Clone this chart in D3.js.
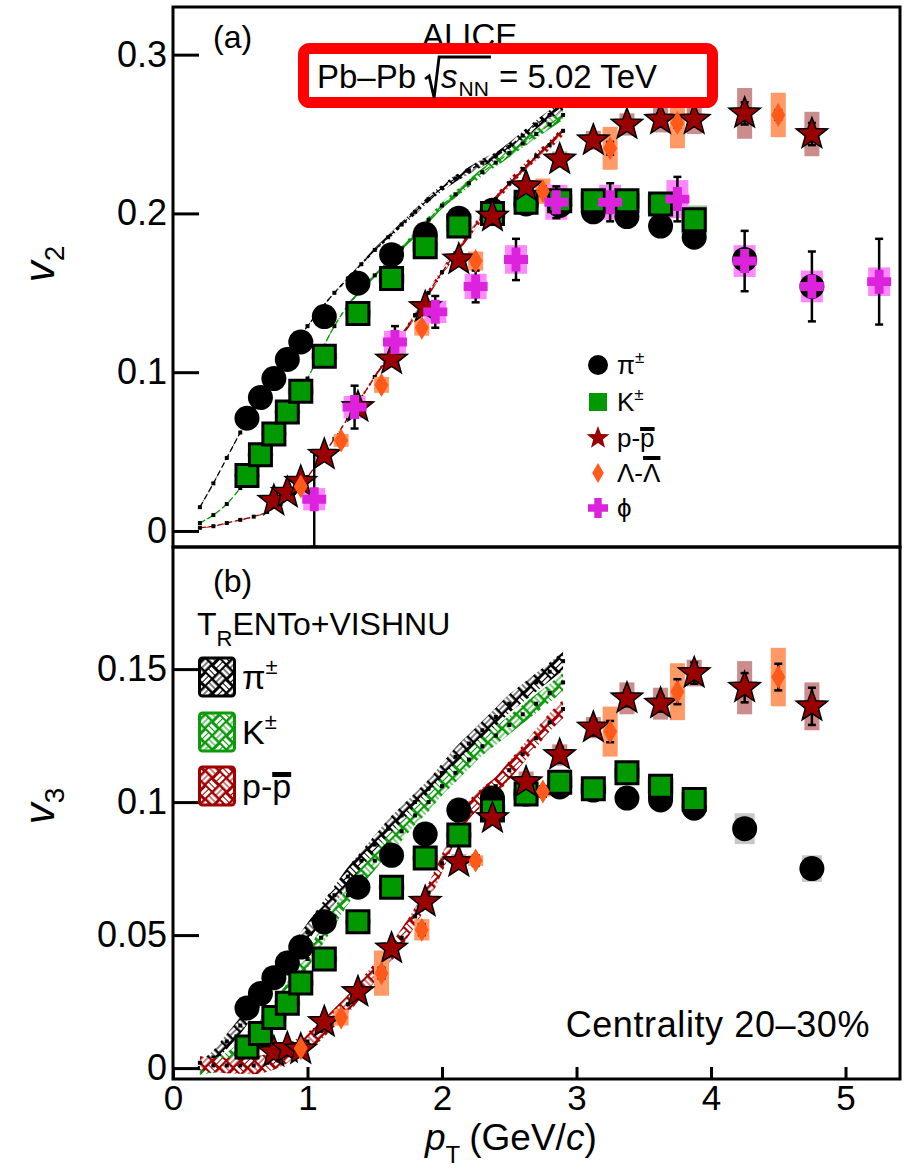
<!DOCTYPE html>
<html>
<head>
<meta charset="utf-8">
<script src="https://cdn.jsdelivr.net/npm/d3@7"></script>
<style>
body { margin: 0; background: #fff; }
text { font-family: "Liberation Sans", Arial, Helvetica, sans-serif; fill: #000; }
</style>
</head>
<body>
<svg id="chart" width="913" height="1173"></svg>
<script>
// ---- model (TRENTo+VISHNU) ----
const modelPt = [0.2,0.3,0.4,0.5,0.6,0.7,0.8,0.9,1.0,1.1,1.2,1.3,1.4,1.5,1.6,1.7,1.8,1.9,2.0,2.1,2.2,2.3,2.4,2.5,2.6,2.7,2.8,2.9];
const piV2Model = [0.015,0.030,0.046,0.062,0.077,0.091,0.104,0.117,0.129,0.140,0.150,0.159,0.168,0.177,0.185,0.193,0.201,0.209,0.216,0.222,0.227,0.232,0.236,0.242,0.249,0.256,0.262,0.268];
const kV2Model  = [0.005,0.010,0.017,0.027,0.039,0.052,0.066,0.081,0.096,0.113,0.129,0.142,0.152,0.161,0.170,0.178,0.187,0.196,0.205,0.212,0.219,0.226,0.232,0.238,0.244,0.250,0.256,0.262];
const pV2Model  = [0.002,0.003,0.005,0.007,0.009,0.012,0.017,0.024,0.034,0.046,0.058,0.071,0.084,0.097,0.110,0.123,0.136,0.150,0.163,0.175,0.187,0.198,0.209,0.219,0.228,0.236,0.243,0.252];
const v2ModelErr = [0.0003,0.0003,0.0003,0.0003,0.0003,0.0003,0.0003,0.0003,0.0004,0.0005,0.0006,0.0008,0.001,0.0012,0.0014,0.0016,0.0018,0.002,0.0021,0.0022,0.0023,0.0024,0.0025,0.0026,0.0027,0.0028,0.0029,0.003];
const piV3Model = [0.000,0.004,0.010,0.016,0.023,0.030,0.037,0.044,0.051,0.058,0.065,0.072,0.078,0.084,0.090,0.095,0.100,0.105,0.111,0.117,0.122,0.127,0.132,0.137,0.141,0.145,0.149,0.153];
const kV3Model  = [0.000,0.001,0.003,0.007,0.012,0.018,0.025,0.033,0.041,0.049,0.057,0.065,0.072,0.078,0.084,0.089,0.095,0.100,0.106,0.111,0.116,0.121,0.125,0.129,0.133,0.137,0.141,0.145];
const pV3Model  = [0.002,0.001,0.001,0.001,0.001,0.002,0.004,0.007,0.010,0.014,0.019,0.024,0.030,0.036,0.042,0.049,0.057,0.066,0.077,0.089,0.097,0.102,0.106,0.112,0.118,0.124,0.130,0.135];
const v3ModelErr = [0.0025,0.0027,0.0029,0.0031,0.0033,0.0034,0.0035,0.0035,0.0035,0.0035,0.0035,0.0035,0.0035,0.0035,0.0035,0.0035,0.0035,0.0035,0.0035,0.0035,0.0035,0.0035,0.0035,0.0035,0.0035,0.0035,0.0035,0.0035];

// ---- ALICE data ----
const piPt = [0.55,0.65,0.75,0.85,0.95,1.125,1.375,1.625,1.875,2.125,2.375,2.625,2.875,3.125,3.375,3.625,3.875,4.25,4.75];
const piV2 = [0.071,0.084,0.096,0.108,0.119,0.135,0.156,0.174,0.187,0.197,0.202,0.206,0.205,0.201,0.198,0.192,0.185,0.171,0.154];
const piV2Stat = [0.001,0.001,0.001,0.001,0.001,0.001,0.001,0.001,0.001,0.001,0.001,0.001,0.002,0.002,0.002,0.002,0.003,0.004,0.005];
const piV2Sys = [0.002,0.002,0.002,0.002,0.002,0.002,0.002,0.002,0.002,0.002,0.002,0.002,0.002,0.003,0.003,0.003,0.003,0.005,0.005];
const piV3 = [0.0226,0.028,0.034,0.0395,0.0455,0.055,0.068,0.080,0.088,0.097,0.1015,0.103,0.1057,0.1045,0.1015,0.1008,0.0977,0.090,0.075];
const piV3Stat = [0.0005,0.0005,0.0005,0.0005,0.0005,0.0005,0.0005,0.0005,0.0005,0.0005,0.0005,0.001,0.001,0.001,0.001,0.001,0.001,0.002,0.002];
const piV3Sys = [0.001,0.001,0.001,0.001,0.001,0.001,0.001,0.001,0.001,0.001,0.001,0.001,0.001,0.001,0.001,0.002,0.002,0.0058,0.005];

const kPt = [0.55,0.65,0.75,0.85,0.95,1.125,1.375,1.625,1.875,2.125,2.375,2.625,2.875,3.125,3.375,3.625,3.875];
const kV2 = [0.035,0.048,0.061,0.075,0.088,0.110,0.137,0.159,0.179,0.192,0.200,0.207,0.208,0.208,0.208,0.206,0.196];
const kV2Stat = [0.001,0.001,0.001,0.001,0.001,0.001,0.001,0.001,0.001,0.001,0.001,0.001,0.002,0.002,0.002,0.003,0.003];
const kV2Sys = [0.001,0.001,0.001,0.001,0.002,0.002,0.002,0.003,0.003,0.003,0.003,0.004,0.004,0.005,0.005,0.006,0.009];
const kV3 = [0.0079,0.013,0.019,0.0244,0.032,0.041,0.055,0.068,0.079,0.0876,0.097,0.103,0.1075,0.105,0.111,0.106,0.101];
const kV3Stat = [0.0005,0.0005,0.0005,0.0005,0.0005,0.0005,0.0005,0.0005,0.0005,0.0005,0.001,0.001,0.001,0.001,0.002,0.002,0.002];
const kV3Sys = [0.001,0.001,0.001,0.001,0.001,0.001,0.001,0.001,0.001,0.001,0.002,0.002,0.002,0.002,0.002,0.003,0.003];

const pPt = [0.75,0.85,0.95,1.125,1.375,1.625,1.875,2.125,2.375,2.625,2.875,3.125,3.375,3.625,3.875,4.25,4.75];
const pV2 = [0.019,0.024,0.031,0.048,0.078,0.108,0.141,0.171,0.198,0.217,0.234,0.246,0.256,0.259,0.259,0.263,0.250];
const pV2Stat = [0.001,0.001,0.001,0.001,0.001,0.001,0.001,0.002,0.002,0.002,0.003,0.003,0.003,0.004,0.004,0.007,0.007];
const pV2Sys = [0.002,0.002,0.002,0.002,0.002,0.003,0.003,0.003,0.004,0.004,0.005,0.006,0.007,0.008,0.009,0.016,0.014];
const pV3 = [0.006,0.0075,0.007,0.0173,0.0286,0.045,0.0625,0.0774,0.094,0.1075,0.1177,0.128,0.139,0.137,0.1485,0.143,0.136];
const pV3Stat = [0.001,0.001,0.001,0.001,0.001,0.001,0.001,0.002,0.002,0.002,0.003,0.003,0.003,0.003,0.004,0.0055,0.007];
const pV3Sys = [0.001,0.001,0.001,0.001,0.002,0.002,0.002,0.003,0.003,0.004,0.004,0.004,0.006,0.006,0.005,0.010,0.009];

const lPt = [0.95,1.25,1.55,1.85,2.25,2.75,3.25,3.75,4.5];
const lV2 = [0.028,0.057,0.092,0.128,0.170,0.214,0.241,0.257,0.262];
const lV2Stat = [0.001,0.001,0.002,0.002,0.002,0.003,0.004,0.003,0.003];
const lV2Sys = [0.003,0.004,0.005,0.005,0.006,0.008,0.0135,0.016,0.014];
const lV3 = [0.0075,0.019,0.0357,0.052,0.078,0.104,0.1265,0.1415,0.147];
const lV3Stat = [0.001,0.001,0.002,0.002,0.002,0.002,0.004,0.0047,0.005];
const lV3Sys = [0.002,0.003,0.0085,0.004,0.002,0.002,0.0094,0.0107,0.011];

const phiPt = [1.05,1.35,1.65,1.95,2.25,2.55,2.85,3.25,3.75,4.25,4.75,5.25];
const phiV2 = [0.020,0.078,0.119,0.138,0.154,0.171,0.207,0.207,0.209,0.170,0.154,0.157];
const phiV2Stat = [0.030,0.0135,0.010,0.010,0.010,0.013,0.010,0.012,0.014,0.019,0.022,0.027];
const phiV2Sys = [0.007,0.007,0.007,0.007,0.008,0.009,0.011,0.011,0.012,0.010,0.010,0.009];

const xTicks = [0,1,2,3,4,5];
const v2Ticks = [0,0.1,0.2,0.3];
const v2TickLabels = ['0','0.1','0.2','0.3'];
const v3Ticks = [0,0.05,0.1,0.15];
const v3TickLabels = ['0','0.05','0.1','0.15'];

const svg = d3.select('#chart');
const defs = svg.append('defs');

const x = d3.scaleLinear().domain([0, 5.405]).range([173, 900]);
const yTop = d3.scaleLinear().domain([-0.0101, 0.330]).range([547, 7]);
const yBot = d3.scaleLinear().domain([-0.0041, 0.1959]).range([1079, 547]);

svg.append('rect').attr('width', 913).attr('height', 1173).attr('fill', '#fff');

defs.append('clipPath').attr('id', 'clipTop').append('rect')
  .attr('x', 173).attr('y', 7).attr('width', 727).attr('height', 540);
defs.append('clipPath').attr('id', 'clipBot').append('rect')
  .attr('x', 173).attr('y', 547).attr('width', 727).attr('height', 532);

// woven hatch used by the model bands
function addWeave(id, color) {
  let p = defs.append('pattern').attr('id', id)
    .attr('patternUnits', 'userSpaceOnUse').attr('width', 20).attr('height', 20)
    .attr('patternTransform', 'rotate(45)');
  p.append('rect').attr('width', 20).attr('height', 20).attr('fill', color);
  let bars = [[1,2,8,3],[1,6,8,3],[11.5,1,3,8],[15.5,1,3,8],
              [2,11,3,8],[6,11,3,8],[11,11.5,8,3],[11,15.5,8,3]];
  bars.forEach(function (b) {
    p.append('rect').attr('x', b[0]).attr('y', b[1]).attr('width', b[2]).attr('height', b[3]).attr('fill', '#fff');
  });
}
addWeave('weavePi', '#000');
addWeave('weaveK', '#0a9a0a');
addWeave('weaveP', '#a00000');

// marker shapes
function shapePath(type, s) {
  if (type === 'circle') {
    return `M${s},0A${s},${s} 0 1,1 ${-s},0A${s},${s} 0 1,1 ${s},0Z`;
  }
  if (type === 'square') {
    return `M${-s},${-s}H${s}V${s}H${-s}Z`;
  }
  if (type === 'star') {
    let pts = [];
    for (let i = 0; i < 10; i++) {
      let r = i % 2 === 0 ? s : s * 0.42;
      let a = -Math.PI / 2 + i * Math.PI / 5;
      pts.push([r * Math.cos(a), r * Math.sin(a)]);
    }
    return 'M' + pts.map(function (p) { return p[0].toFixed(2) + ',' + p[1].toFixed(2); }).join('L') + 'Z';
  }
  if (type === 'diamond') {
    let w = s * 0.58;
    return `M0,${-s}L${w},0L0,${s}L${-w},0Z`;
  }
  if (type === 'cross') {
    let t = s * 0.37;
    return `M${-t},${-s}H${t}V${-t}H${s}V${t}H${t}V${s}H${-t}V${t}H${-s}V${-t}H${-t}Z`;
  }
}

const styles = {
  pi:  { shape: 'circle',  size: 12.5, fill: '#000',    stroke: 'none', sw: 0,   sysColor: '#c8c8c8', sysW: 20 },
  k:   { shape: 'square',  size: 11,   fill: '#009900', stroke: '#000', sw: 3,   sysColor: '#99cc99', sysW: 26 },
  p:   { shape: 'star',    size: 16.5, fill: '#990000', stroke: '#000', sw: 1.5, sysColor: '#cc8c8c', sysW: 15 },
  lam: { shape: 'diamond', size: 12,   fill: '#ff5a1a', stroke: 'none', sw: 0,   sysColor: '#ff9966', sysW: 15 },
  phi: { shape: 'cross',   size: 12,   fill: '#dd22dd', stroke: 'none', sw: 0,   sysColor: '#ff88ff', sysW: 22 }
};

function drawModel(g, y, vals, errs, color, pat, thin) {
  let pts = modelPt.map(function (p, i) { return { p: p, v: vals[i], e: errs[i] }; });
  let area = d3.area()
    .x(function (d) { return x(d.p); })
    .y0(function (d) { return y(d.v - d.e); })
    .y1(function (d) { return y(d.v + d.e); })
    .curve(d3.curveMonotoneX);
  g.append('path').attr('d', area(pts)).attr('fill', `url(#${pat})`);
  if (thin) {
    let line = d3.line().x(function (d) { return x(d.p); }).y(function (d) { return y(d.v); }).curve(d3.curveMonotoneX);
    g.append('path').attr('d', line(pts)).attr('fill', 'none')
      .attr('stroke', color).attr('stroke-width', 1.3).attr('stroke-dasharray', '6,3');
  }
  g.selectAll(null).data(pts).enter().append('rect')
    .attr('x', function (d) { return x(d.p) - 2; })
    .attr('y', function (d) { return y(d.v) - 2; })
    .attr('width', 4).attr('height', 4).attr('fill', '#000');
}

function drawSeries(layers, y, pt, vals, stat, sys, st) {
  let pts = pt.map(function (p, i) { return { p: p, v: vals[i], e: stat[i], s: sys[i] }; });
  layers.sys.selectAll(null).data(pts).enter().append('rect')
    .attr('x', function (d) { return x(d.p) - st.sysW / 2; })
    .attr('y', function (d) { return y(d.v + d.s); })
    .attr('width', st.sysW)
    .attr('height', function (d) { return y(d.v - d.s) - y(d.v + d.s); })
    .attr('fill', st.sysColor);
  let eb = layers.err.selectAll(null).data(pts).enter().append('g');
  eb.append('line')
    .attr('x1', function (d) { return x(d.p); }).attr('x2', function (d) { return x(d.p); })
    .attr('y1', function (d) { return y(d.v - d.e); }).attr('y2', function (d) { return y(d.v + d.e); })
    .attr('stroke', '#000').attr('stroke-width', 2.5);
  [-1, 1].forEach(function (sgn) {
    eb.append('line')
      .attr('x1', function (d) { return x(d.p) - 4; }).attr('x2', function (d) { return x(d.p) + 4; })
      .attr('y1', function (d) { return y(d.v + sgn * d.e); }).attr('y2', function (d) { return y(d.v + sgn * d.e); })
      .attr('stroke', '#000').attr('stroke-width', 2.5);
  });
  layers.mark.selectAll(null).data(pts).enter().append('path')
    .attr('d', shapePath(st.shape, st.size))
    .attr('transform', function (d) { return `translate(${x(d.p)},${y(d.v)})`; })
    .attr('fill', st.fill).attr('stroke', st.stroke).attr('stroke-width', st.sw)
    .attr('stroke-linejoin', 'miter');
}

function panelLayers(clip) {
  let g = svg.append('g').attr('clip-path', `url(#${clip})`);
  return { model: g.append('g'), sys: g.append('g'), err: g.append('g'), mark: g.append('g') };
}

// ---- top panel: v2 ----
const panelA = panelLayers('clipTop');
drawModel(panelA.model, yTop, piV2Model, v2ModelErr, '#000', 'weavePi', true);
drawModel(panelA.model, yTop, kV2Model, v2ModelErr, '#0a9a0a', 'weaveK', true);
drawModel(panelA.model, yTop, pV2Model, v2ModelErr, '#a00000', 'weaveP', true);
drawSeries(panelA, yTop, piPt, piV2, piV2Stat, piV2Sys, styles.pi);
drawSeries(panelA, yTop, kPt, kV2, kV2Stat, kV2Sys, styles.k);
drawSeries(panelA, yTop, pPt, pV2, pV2Stat, pV2Sys, styles.p);
drawSeries(panelA, yTop, lPt, lV2, lV2Stat, lV2Sys, styles.lam);
drawSeries(panelA, yTop, phiPt, phiV2, phiV2Stat, phiV2Sys, styles.phi);

// ---- bottom panel: v3 ----
const panelB = panelLayers('clipBot');
drawModel(panelB.model, yBot, piV3Model, v3ModelErr, '#000', 'weavePi', false);
drawModel(panelB.model, yBot, kV3Model, v3ModelErr, '#0a9a0a', 'weaveK', false);
drawModel(panelB.model, yBot, pV3Model, v3ModelErr, '#a00000', 'weaveP', false);
drawSeries(panelB, yBot, piPt, piV3, piV3Stat, piV3Sys, styles.pi);
drawSeries(panelB, yBot, kPt, kV3, kV3Stat, kV3Sys, styles.k);
drawSeries(panelB, yBot, pPt, pV3, pV3Stat, pV3Sys, styles.p);
drawSeries(panelB, yBot, lPt, lV3, lV3Stat, lV3Sys, styles.lam);

// ---- axes ----
function styleAxis(g, size) {
  g.select('.domain').remove();
  g.selectAll('.tick line').attr('stroke', '#000').attr('stroke-width', 3);
  g.selectAll('.tick text').attr('font-size', size)
    .attr('font-family', '"Liberation Sans", Arial, sans-serif').attr('fill', '#000');
}
let axTop = svg.append('g').attr('transform', 'translate(173,0)')
  .call(d3.axisLeft(yTop).tickValues(v2Ticks).tickSizeInner(-26).tickSizeOuter(0).tickPadding(6)
    .tickFormat(function (d, i) { return v2TickLabels[i]; }));
styleAxis(axTop, 36);
let axBot = svg.append('g').attr('transform', 'translate(173,0)')
  .call(d3.axisLeft(yBot).tickValues(v3Ticks).tickSizeInner(-26).tickSizeOuter(0).tickPadding(6)
    .tickFormat(function (d, i) { return v3TickLabels[i]; }));
styleAxis(axBot, 36);
let axX = svg.append('g').attr('transform', 'translate(0,1079)')
  .call(d3.axisBottom(x).tickValues(xTicks).tickSizeInner(-12).tickSizeOuter(0).tickPadding(6)
    .tickFormat(d3.format('d')));
styleAxis(axX, 35);

// frames
svg.append('rect').attr('x', 173).attr('y', 7).attr('width', 727).attr('height', 540)
  .attr('fill', 'none').attr('stroke', '#000').attr('stroke-width', 3);
svg.append('rect').attr('x', 173).attr('y', 547).attr('width', 727).attr('height', 532)
  .attr('fill', 'none').attr('stroke', '#000').attr('stroke-width', 3);

// axis titles
function yTitle(cx, cy, sub) {
  let t = svg.append('text').attr('transform', `translate(${cx},${cy}) rotate(-90)`)
    .attr('text-anchor', 'middle').attr('font-size', 42);
  t.append('tspan').attr('font-style', 'italic').text('v');
  t.append('tspan').attr('font-size', 28).attr('dy', 10).text(sub);
}
yTitle(54, 264, '2');
yTitle(54, 806, '3');

let xt = svg.append('text').attr('x', 425).attr('y', 1150).attr('font-size', 37);
xt.append('tspan').attr('font-style', 'italic').text('p');
xt.append('tspan').attr('font-size', 24).attr('dy', 13).text('T');
xt.append('tspan').attr('dy', -13).attr('dx', 9).text('(GeV/');
xt.append('tspan').attr('font-style', 'italic').text('c');
xt.append('tspan').text(')');

// panel labels
svg.append('text').attr('x', 213).attr('y', 48).attr('font-size', 32).text('(a)');
svg.append('text').attr('x', 213).attr('y', 592).attr('font-size', 32).text('(b)');
svg.append('text').attr('x', 870).attr('y', 1037).attr('text-anchor', 'end').attr('font-size', 36)
  .attr('letter-spacing', 0.6).text('Centrality 20\u201330%');

// ALICE + energy box
svg.append('text').attr('x', 422).attr('y', 47).attr('font-size', 33).text('ALICE');
svg.append('rect').attr('x', 303.5).attr('y', 48.5).attr('width', 409).attr('height', 54).attr('rx', 6)
  .attr('fill', '#fff').attr('stroke', '#ff0000').attr('stroke-width', 11);
let bx = 317;
let t1 = svg.append('text').attr('x', bx).attr('y', 88).attr('font-size', 33).text('Pb\u2013Pb');
bx += t1.node().getComputedTextLength() + 9;
let rad = bx;
let ts = svg.append('text').attr('x', rad + 16).attr('y', 88).attr('font-size', 33).attr('font-style', 'italic').text('s');
let nnX = rad + 16 + ts.node().getComputedTextLength() + 1;
let tnn = svg.append('text').attr('x', nnX).attr('y', 96).attr('font-size', 21).text('NN');
let barEnd = nnX + tnn.node().getComputedTextLength() + 2;
svg.append('path').attr('d', `M${rad},79L${rad + 4},76L${rad + 9},98L${rad + 14},57H${barEnd}`)
  .attr('fill', 'none').attr('stroke', '#000').attr('stroke-width', 2.8);
svg.append('text').attr('x', barEnd + 8).attr('y', 88).attr('font-size', 33).text('= 5.02 TeV');

// overline helper for antiparticle labels
function overbar(t, idx, dy, h) {
  let node = t.node();
  let x0 = +t.attr('x');
  let a = node.getSubStringLength(0, idx);
  let w = node.getSubStringLength(idx, 1);
  svg.append('rect').attr('x', x0 + a).attr('y', +t.attr('y') + dy).attr('width', w).attr('height', h).attr('fill', '#000');
}

// top legend (data)
const legTopKeys = ['pi', 'k', 'p', 'lam', 'phi'];
const legTopLabels = ['\u03c0', 'K', 'p-p', '\u039b-\u039b', '\u03d5'];
const legTopY = [365, 402, 438, 473, 508];
const legTopSize = { pi: 10, k: 9, p: 12, lam: 10, phi: 10 };
legTopKeys.forEach(function (key, i) {
  let st = styles[key];
  svg.append('path').attr('d', shapePath(st.shape, legTopSize[key]))
    .attr('transform', `translate(598,${legTopY[i]})`).attr('fill', st.fill);
  let t = svg.append('text').attr('x', 617).attr('y', legTopY[i] + 9).attr('font-size', 26).text(legTopLabels[i]);
  if (key === 'pi' || key === 'k') {
    t.append('tspan').attr('font-size', 17).attr('dy', -11).text('\u00b1');
  }
  if (key === 'p') overbar(t, 2, -20, 4);
  if (key === 'lam') overbar(t, 2, -26, 4);
});

// bottom legend (model)
let tr = svg.append('text').attr('x', 197).attr('y', 635).attr('font-size', 32);
tr.append('tspan').text('T');
tr.append('tspan').attr('font-size', 22).attr('dy', 11).text('R');
tr.append('tspan').attr('dy', -11).text('ENTo+VISHNU');

const legBotPat = ['weavePi', 'weaveK', 'weaveP'];
const legBotColor = ['#000', '#0a9a0a', '#a00000'];
const legBotLabels = ['\u03c0', 'K', 'p-p'];
const legBotY = [658, 713, 767];
legBotPat.forEach(function (pat, i) {
  svg.append('rect').attr('x', 199.5).attr('y', legBotY[i]).attr('width', 35).attr('height', 38).attr('rx', 3)
    .attr('fill', `url(#${pat})`).attr('stroke', legBotColor[i]).attr('stroke-width', 3);
  let t = svg.append('text').attr('x', 242).attr('y', legBotY[i] + 31).attr('font-size', 34).text(legBotLabels[i]);
  if (i < 2) t.append('tspan').attr('font-size', 22).attr('dy', -15).text('\u00b1');
  if (i === 2) overbar(t, 2, -26, 5);
});
</script>
</body>
</html>
